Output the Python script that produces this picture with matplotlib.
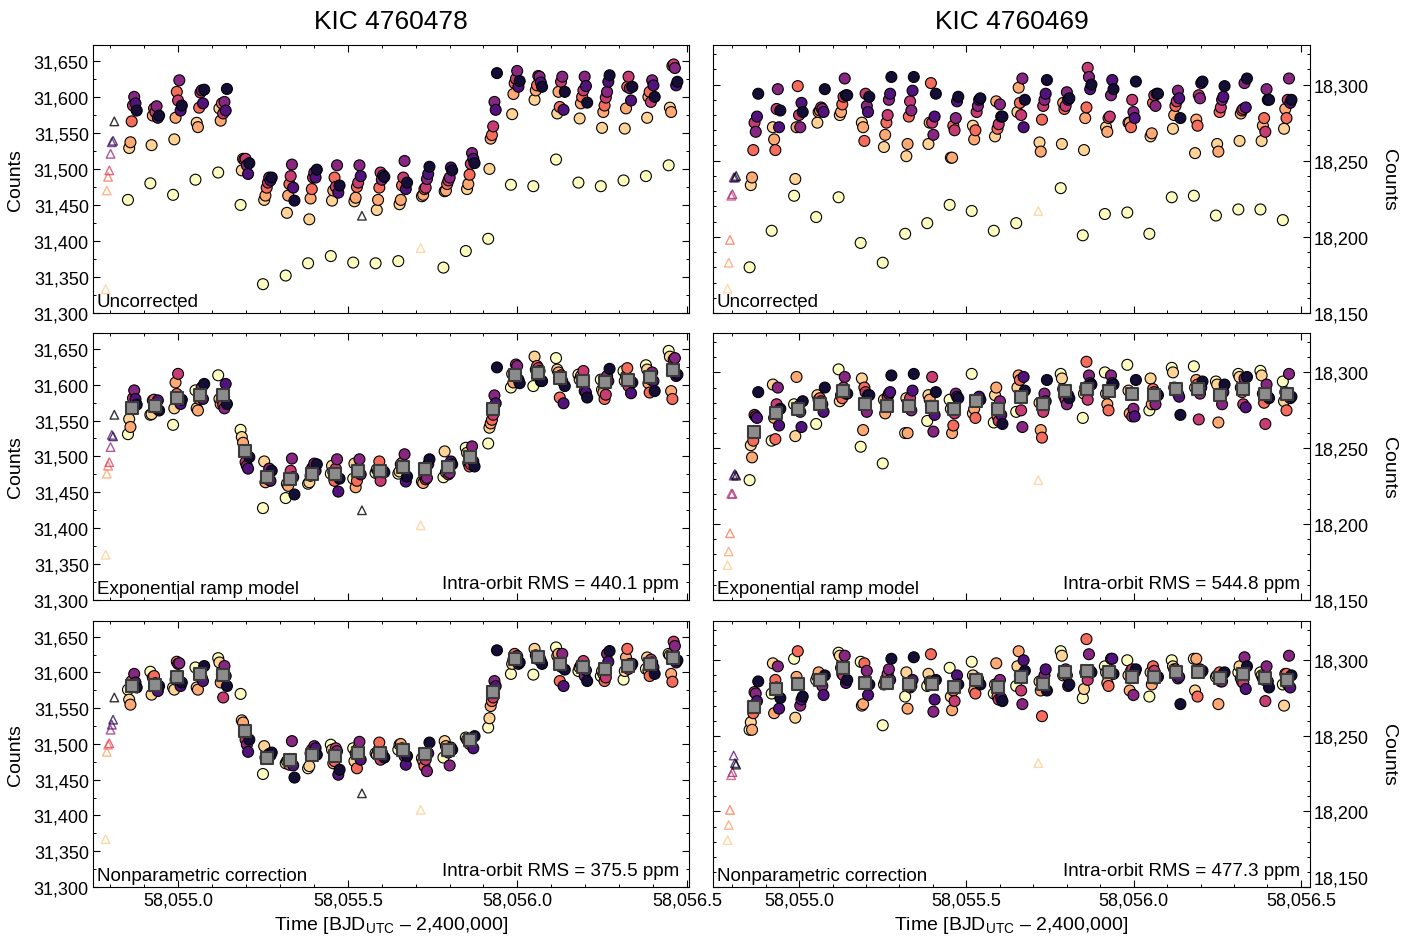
import numpy as np
import matplotlib
matplotlib.use('Agg')
import matplotlib.pyplot as plt
from matplotlib.ticker import MultipleLocator, FuncFormatter
from matplotlib.transforms import ScaledTranslation

plt.rcParams['font.family'] = ['Liberation Sans', 'DejaVu Sans']
plt.rcParams['mathtext.fontset'] = 'custom'
plt.rcParams['mathtext.rm'] = 'Liberation Sans'
plt.rcParams['mathtext.it'] = 'Liberation Sans:italic'

nan = np.nan

# start time of every HST orbit (orbit 0 is the discarded one) and exposure offsets
orbitT = [58054.852, 58054.918, 58054.985, 58055.051, 58055.118, 58055.184, 58055.250,
          58055.317, 58055.383, 58055.450, 58055.516, 58055.582, 58055.649, 58055.715,
          58055.782, 58055.848, 58055.914, 58055.981, 58056.047, 58056.114, 58056.180,
          58056.246, 58056.313, 58056.379, 58056.446]
firstT = 58054.786
expDt = [0.0, 0.0036, 0.0073, 0.0110, 0.0147, 0.0184, 0.0221, 0.0258]

# KIC 4760478 -- uncorrected counts, one row per orbit, one column per exposure
rawA = [
    [31457, 31529, 31537, 31566, 31588, 31600, 31591, 31581],
    [31480, 31533, 31574, 31584, 31579, 31587, 31571, 31574],
    [31464, 31541, 31571, 31607, 31595, 31623, 31581, 31588],
    [31485, 31564, 31558, 31585, 31606, 31609, 31591, 31610],
    [31495, 31584, 31567, 31591, 31577, 31593, 31581, 31611],
    [31450, 31498, 31514, 31513, 31514, 31505, 31493, 31508],
    [31340, 31457, 31463, 31474, 31481, 31488, 31484, 31488],
    [31352, 31439, 31463, 31479, 31490, 31506, 31474, 31456],
    [31369, 31430, 31459, 31472, 31488, 31495, 31488, 31499],
    [31379, 31456, 31470, 31488, 31475, 31505, 31467, 31477],
    [31370, 31455, 31460, 31475, 31481, 31505, 31490, nan],
    [31369, 31443, 31457, 31474, 31495, 31485, 31491, 31489],
    [31372, 31451, 31457, 31477, 31488, 31511, 31472, 31481],
    [nan, 31462, 31464, 31472, 31474, 31486, 31493, 31503],
    [31363, 31469, 31470, 31479, 31484, 31488, 31502, 31498],
    [31386, 31472, 31479, 31492, 31507, 31522, 31514, 31508],
    [31403, 31500, 31542, 31547, 31559, 31593, 31582, 31633],
    [31478, 31576, 31604, 31619, 31625, 31636, 31614, 31622],
    [31476, 31596, 31609, 31616, 31629, 31628, 31620, 31614],
    [31513, 31577, 31607, 31586, 31621, 31628, 31582, 31607],
    [31481, 31570, 31591, 31600, 31609, 31628, 31615, 31592],
    [31476, 31557, 31579, 31588, 31599, 31607, 31621, 31630],
    [31484, 31556, 31584, 31614, 31628, 31612, 31595, 31614],
    [31490, 31571, 31600, 31607, 31593, 31623, 31616, 31600],
    [31505, 31585, 31579, 31643, 31645, 31640, 31616, 31621],
]
rampA = [
    [31531, 31552, 31541, 31571, 31581, 31592, 31580, 31572],
    [31558, 31559, 31578, 31579, 31573, 31567, 31578, 31564],
    [31544, 31567, 31603, 31587, 31615, 31577, 31573, 31579],
    [31592, 31567, 31564, 31580, 31590, 31596, 31580, 31601],
    [31613, 31580, 31573, 31578, 31572, 31567, 31601, 31573],
    [31537, 31527, 31519, 31508, 31492, 31487, 31483, 31499],
    [31428, 31493, 31464, 31469, 31473, 31483, 31466, 31480],
    [31442, 31462, 31459, 31473, 31480, 31497, 31471, 31447],
    [31462, 31464, 31473, 31483, 31485, 31490, 31480, 31489],
    [31476, 31487, 31478, 31466, 31483, 31496, 31451, 31469],
    [31469, 31490, 31457, 31466, 31483, 31496, 31475, nan],
    [31477, 31482, 31480, 31493, 31466, 31478, 31480, 31478],
    [31476, 31479, 31489, 31491, 31485, 31503, 31465, 31472],
    [nan, 31465, 31463, 31472, 31468, 31470, 31489, 31496],
    [31471, 31507, 31478, 31482, 31475, 31477, 31493, 31489],
    [31512, 31505, 31491, 31486, 31489, 31514, 31493, 31486],
    [31518, 31540, 31546, 31551, 31558, 31585, 31574, 31624],
    [31596, 31615, 31603, 31616, 31628, 31626, 31607, 31602],
    [31598, 31639, 31621, 31626, 31623, 31619, 31605, 31605],
    [31637, 31621, 31617, 31582, 31613, 31605, 31574, 31598],
    [31614, 31607, 31612, 31603, 31619, 31591, 31589, 31582],
    [31607, 31593, 31589, 31580, 31586, 31612, 31605, 31622],
    [31619, 31605, 31612, 31623, 31598, 31607, 31588, 31603],
    [31627, 31621, 31602, 31589, 31607, 31617, 31605, 31591],
    [31647, 31639, 31591, 31580, 31635, 31637, 31612, 31614],
]
npA = [
    [31576, 31562, 31555, 31588, 31583, 31598, 31586, 31579],
    [31601, 31569, 31593, 31595, 31585, 31579, 31574, 31581],
    [31579, 31576, 31590, 31615, 31612, 31613, 31581, 31586],
    [31607, 31579, 31576, 31595, 31600, 31593, 31588, 31609],
    [31620, 31614, 31586, 31597, 31565, 31609, 31595, 31581],
    [31570, 31533, 31530, 31518, 31506, 31499, 31489, 31506],
    [31458, 31497, 31481, 31483, 31480, 31486, 31484, 31488],
    [31473, 31476, 31478, 31471, 31478, 31504, 31470, 31453],
    [31466, 31469, 31487, 31492, 31485, 31497, 31494, 31485],
    [31499, 31492, 31473, 31476, 31494, 31490, 31457, 31464],
    [31494, 31476, 31487, 31466, 31494, 31503, 31478, nan],
    [31487, 31485, 31490, 31502, 31478, 31488, 31483, 31481],
    [31492, 31499, 31500, 31494, 31490, 31483, 31471, 31483],
    [nan, 31480, 31476, 31469, 31478, 31462, 31487, 31502],
    [31481, 31504, 31497, 31490, 31488, 31470, 31495, 31492],
    [31509, 31506, 31505, 31500, 31503, 31508, 31494, 31511],
    [31523, 31536, 31553, 31560, 31565, 31588, 31581, 31631],
    [31598, 31612, 31618, 31626, 31620, 31623, 31612, 31614],
    [31597, 31633, 31624, 31619, 31622, 31621, 31616, 31612],
    [31635, 31623, 31626, 31588, 31608, 31626, 31581, 31604],
    [31602, 31607, 31610, 31608, 31616, 31595, 31603, 31588],
    [31595, 31602, 31598, 31588, 31593, 31626, 31615, 31630],
    [31590, 31602, 31621, 31633, 31605, 31612, 31609, 31612],
    [31605, 31621, 31603, 31595, 31618, 31614, 31607, 31598],
    [31626, 31624, 31598, 31587, 31643, 31637, 31614, 31617],
]
firstRawA = [31333, 31470, 31489, 31498, 31521, 31537, 31539, 31566]
firstRampA = [31363, 31476, 31487, 31492, 31513, 31530, 31528, 31558]
firstNpA = [31367, 31489, 31499, 31501, 31520, 31527, 31534, 31565]
# flagged single exposures: (orbit index, exposure index)
badA = [(10, 7), (13, 0)]
badRawA = [31435, 31390]
badRampA = [31425, 31404]
badNpA = [31431, 31408]
binRampA = [31568, 31570, 31582, 31586, 31586, 31507, 31472, 31469, 31475, 31475, 31480, 31479,
            31485, 31482, 31485, 31499, 31566, 31613, 31616, 31609, 31605, 31603, 31606, 31611, 31620]
binNpA = [31581, 31583, 31594, 31598, 31597, 31518, 31481, 31478, 31484, 31483, 31488, 31488,
          31491, 31486, 31491, 31505, 31572, 31619, 31621, 31612, 31608, 31605, 31609, 31612, 31620]

# KIC 4760469
rawB = [
    [18180, 18234, 18239, 18257, 18275, 18269, 18279, 18294],
    [18204, 18272, 18264, 18257, 18284, 18297, 18272, 18283],
    [18227, 18238, 18272, 18299, 18280, 18272, 18288, 18282],
    [18213, 18275, 18282, 18283, 18285, 18284, 18282, 18297],
    [18226, 18280, 18282, 18287, 18292, 18304, 18293, 18293],
    [18196, 18275, 18272, 18263, 18294, 18286, 18282, 18292],
    [18183, 18259, 18267, 18275, 18280, 18290, 18294, 18305],
    [18202, 18253, 18261, 18279, 18289, 18283, 18296, 18305],
    [18209, 18261, 18275, 18301, 18275, 18267, 18279, 18294],
    [18221, 18252, 18252, 18273, 18270, 18278, 18289, 18292],
    [18217, 18273, 18264, 18270, 18282, 18286, 18290, 18291],
    [18204, 18266, 18289, 18271, 18274, 18287, 18279, 18279],
    [18209, 18282, 18298, 18288, 18280, 18304, 18272, 18290],
    [nan, 18262, 18256, 18277, 18286, 18290, 18294, 18303],
    [18232, 18261, 18288, 18284, 18286, 18295, 18290, 18291],
    [18201, 18257, 18278, 18285, 18311, 18305, 18297, 18300],
    [18215, 18272, 18269, 18278, 18279, 18293, 18303, 18297],
    [18216, 18275, 18275, 18272, 18290, 18282, 18278, 18302],
    [18202, 18266, 18268, 18288, 18293, 18286, 18294, 18294],
    [18226, 18271, 18280, 18286, 18289, 18296, 18291, 18278],
    [18227, 18255, 18277, 18273, 18293, 18291, 18301, 18302],
    [18214, 18261, 18256, 18282, 18285, 18290, 18292, 18299],
    [18218, 18263, 18281, 18283, 18284, 18301, 18285, 18304],
    [18218, 18263, 18273, 18278, 18269, 18297, 18290, 18290],
    [18211, 18271, 18284, 18278, 18290, 18304, 18288, 18290],
]
rampB = [
    [18229, 18252, 18244, 18255, 18272, 18271, 18270, 18287],
    [18255, 18292, 18270, 18256, 18279, 18290, 18265, 18276],
    [18279, 18258, 18297, 18275, 18278, 18274, 18264, 18281],
    [18266, 18285, 18282, 18283, 18281, 18279, 18274, 18290],
    [18302, 18281, 18285, 18283, 18290, 18297, 18286, 18286],
    [18251, 18296, 18262, 18290, 18287, 18274, 18285, 18285],
    [18240, 18282, 18273, 18278, 18284, 18286, 18287, 18298],
    [18260, 18283, 18260, 18278, 18283, 18275, 18288, 18299],
    [18268, 18285, 18282, 18278, 18297, 18261, 18272, 18287],
    [18282, 18276, 18260, 18265, 18273, 18286, 18284, 18283],
    [18299, 18273, 18276, 18270, 18281, 18283, 18284, 18282],
    [18267, 18285, 18290, 18271, 18268, 18281, 18272, 18266],
    [18274, 18290, 18298, 18295, 18275, 18264, 18297, 18288],
    [nan, 18280, 18262, 18257, 18274, 18286, 18281, 18295],
    [18299, 18296, 18289, 18284, 18282, 18279, 18285, 18283],
    [18270, 18286, 18290, 18307, 18282, 18298, 18293, 18292],
    [18300, 18286, 18279, 18275, 18288, 18298, 18293, 18292],
    [18305, 18288, 18273, 18286, 18271, 18276, 18271, 18295],
    [18275, 18296, 18279, 18289, 18287, 18279, 18286, 18285],
    [18303, 18300, 18290, 18288, 18288, 18286, 18284, 18272],
    [18304, 18290, 18295, 18292, 18269, 18286, 18290, 18294],
    [18294, 18292, 18267, 18286, 18284, 18279, 18287, 18292],
    [18299, 18297, 18290, 18287, 18279, 18296, 18277, 18297],
    [18301, 18298, 18286, 18280, 18266, 18292, 18284, 18283],
    [18294, 18281, 18287, 18275, 18286, 18299, 18283, 18284],
]
npB = [
    [18254, 18259, 18254, 18265, 18279, 18278, 18273, 18286],
    [18278, 18298, 18265, 18287, 18282, 18296, 18268, 18275],
    [18301, 18262, 18289, 18306, 18285, 18270, 18274, 18276],
    [18287, 18289, 18292, 18287, 18285, 18283, 18277, 18290],
    [18305, 18303, 18295, 18291, 18290, 18303, 18285, 18287],
    [18299, 18270, 18271, 18298, 18286, 18293, 18277, 18284],
    [18257, 18284, 18286, 18288, 18291, 18294, 18287, 18301],
    [18276, 18292, 18268, 18285, 18282, 18283, 18287, 18302],
    [18283, 18291, 18286, 18304, 18284, 18266, 18274, 18287],
    [18295, 18276, 18267, 18280, 18273, 18283, 18290, 18284],
    [18299, 18290, 18280, 18278, 18286, 18288, 18285, 18284],
    [18278, 18284, 18298, 18276, 18274, 18287, 18275, 18273],
    [18283, 18296, 18306, 18290, 18280, 18271, 18300, 18293],
    [nan, 18286, 18280, 18263, 18285, 18290, 18294, 18280],
    [18306, 18303, 18290, 18292, 18294, 18290, 18283, 18284],
    [18275, 18281, 18292, 18314, 18287, 18304, 18293, 18292],
    [18296, 18292, 18285, 18283, 18292, 18301, 18301, 18291],
    [18300, 18290, 18280, 18293, 18294, 18277, 18292, 18294],
    [18276, 18292, 18284, 18296, 18293, 18288, 18289, 18289],
    [18300, 18296, 18294, 18294, 18292, 18288, 18289, 18271],
    [18301, 18280, 18301, 18276, 18292, 18294, 18292, 18293],
    [18289, 18290, 18271, 18292, 18286, 18286, 18291, 18292],
    [18292, 18296, 18288, 18286, 18285, 18302, 18281, 18296],
    [18292, 18290, 18288, 18287, 18273, 18296, 18286, 18282],
    [18284, 18270, 18291, 18291, 18284, 18303, 18282, 18290],
]
firstRawB = [18166, 18183, 18198, 18227, 18228, 18239, 18239, 18240]
firstRampB = [18173, 18182, 18194, 18220, 18220, 18232, 18233, 18232]
firstNpB = [18181, 18191, 18201, 18224, 18226, 18237, 18232, 18231]
badB = [(13, 0)]
badRawB = [18217]
badRampB = [18229]
badNpB = [18232]
binRampB = [18261, 18273, 18276, 18279, 18288, 18279, 18278, 18278, 18277, 18276, 18281, 18276,
            18284, 18279, 18288, 18289, 18288, 18286, 18285, 18289, 18289, 18285, 18289, 18286, 18286]
binNpB = [18269, 18281, 18284, 18287, 18295, 18285, 18285, 18284, 18284, 18282, 18287, 18282,
          18289, 18284, 18292, 18293, 18292, 18289, 18289, 18292, 18292, 18288, 18291, 18288, 18287]

titles = ['KIC 4760478', 'KIC 4760469']
labels = ['Uncorrected', 'Exponential ramp model', 'Nonparametric correction']
rmsA = [None, 440.1, 375.5]
rmsB = [None, 544.8, 477.3]

# colours of the exposures inside an orbit
cmap = plt.get_cmap('magma')
levels = np.array([1.0, 0.91, 0.82, 0.69, 0.54, 0.39, 0.25, 0.1])
expCol = cmap(levels)
triCol = cmap(np.clip(levels - 0.1, 0, 1))
triCol[:, 3] = 0.8


def panel(ax, vals, first, badIdx, badVals, bins=None):
    t = np.array(orbitT)[:, None] + np.array(expDt)[None, :]
    v = np.array(vals, dtype=float)
    ci = np.tile(np.arange(8), (len(orbitT), 1))
    ok = ~np.isnan(v)
    ax.scatter(t[ok], v[ok], c=expCol[ci[ok]], s=62, edgecolors='black', linewidths=0.8, zorder=3)
    # first orbit and flagged frames: open triangles
    ax.scatter(firstT + np.array(expDt), first, marker='^', facecolors='none',
               edgecolors=triCol, s=38, linewidths=1.0, zorder=2)
    bt = [orbitT[o] + expDt[e] for o, e in badIdx]
    bc = [triCol[e] for o, e in badIdx]
    ax.scatter(bt, badVals, marker='^', facecolors='none', edgecolors=bc, s=38, linewidths=1.0, zorder=2)
    if bins is not None:
        ax.scatter(np.array(orbitT) + np.mean(expDt), bins, marker='s', s=80, c='#8c8c8c',
                   edgecolors='#3a3a3a', linewidths=1.5, zorder=4)


fig = plt.figure(figsize=(14.01, 9.37), dpi=100)
rowsY = [0.6649, 0.3586, 0.0523]
rowsH = [0.2860, 0.2850, 0.2839]
colX = [0.0664, 0.5089]
colW = [0.4254, 0.4261]

dataA = [(rawA, firstRawA, badRawA, None), (rampA, firstRampA, badRampA, binRampA),
         (npA, firstNpA, badNpA, binNpA)]
dataB = [(rawB, firstRawB, badRawB, None), (rampB, firstRampB, badRampB, binRampB),
         (npB, firstNpB, badNpB, binNpB)]

lastAx = None
for col in range(2):
    for row in range(3):
        ax = fig.add_axes([colX[col], rowsY[row], colW[col], rowsH[row]])
        if col == 0:
            vals, first, badV, bins = dataA[row]
            panel(ax, vals, first, badA, badV, bins)
            ax.set_xlim(58054.749, 58056.506)
            ax.set_ylim(31300, 31672)
            ax.yaxis.set_major_locator(MultipleLocator(50))
            ax.yaxis.set_minor_locator(MultipleLocator(25))
            ax.tick_params(which='both', direction='in', top=True, right=True, left=True)
            ax.set_ylabel('Counts', fontsize=14, labelpad=7)
            rms = rmsA[row]
        else:
            vals, first, badV, bins = dataB[row]
            panel(ax, vals, first, badB, badV, bins)
            ax.set_xlim(58054.7425, 58056.527)
            ax.set_ylim(18150, 18326)
            ax.yaxis.set_major_locator(MultipleLocator(50))
            ax.yaxis.set_minor_locator(MultipleLocator(10))
            ax.yaxis.tick_right()
            ax.yaxis.set_label_position('right')
            ax.tick_params(which='both', direction='in', top=True, right=True, left=True,
                           labelleft=False, labelright=True)
            ax.set_ylabel('Counts', fontsize=14, rotation=270, va='bottom', labelpad=8)
            rms = rmsB[row]
        ax.yaxis.set_major_formatter(FuncFormatter(lambda v, p: f'{v:,.0f}'))
        ax.xaxis.set_major_locator(MultipleLocator(0.5))
        ax.xaxis.set_minor_locator(MultipleLocator(0.1))
        ax.xaxis.set_major_formatter(FuncFormatter(lambda v, p: f'{v:,.1f}'))
        ax.tick_params(which='major', length=5, width=0.8, labelsize=13, pad=3)
        ax.tick_params(which='minor', length=2.5, width=0.7)
        for sp in ax.spines.values():
            sp.set_linewidth(0.8)
        if row < 2:
            ax.tick_params(labelbottom=False)
        else:
            ax.set_xlabel(r'Time [BJD$_{\mathrm{UTC}}$ – 2,400,000]', fontsize=14, labelpad=4)
        ax.text(0.006, 0.012, labels[row], transform=ax.transAxes, fontsize=13.5,
                ha='left', va='bottom')
        if rms is not None:
            ax.text(0.983, 0.03, f'Intra-orbit RMS = {rms} ppm', transform=ax.transAxes,
                    fontsize=13.5, ha='right', va='bottom')
        if row == 0:
            fig.text(colX[col] + colW[col] / 2, 0.9765, titles[col], fontsize=19,
                     ha='center', va='center')
        lastAx = ax

# lift the lowest right-hand label of the bottom-right panel a little, as in the original
fig.canvas.draw()
for tk in lastAx.yaxis.get_major_ticks():
    if abs(tk.get_loc() - 18150) < 1:
        lab = tk.label2
        lab.set_transform(lab.get_transform() + ScaledTranslation(0, 7 / 72, fig.dpi_scale_trans))

fig.savefig('out.png', dpi=100)
